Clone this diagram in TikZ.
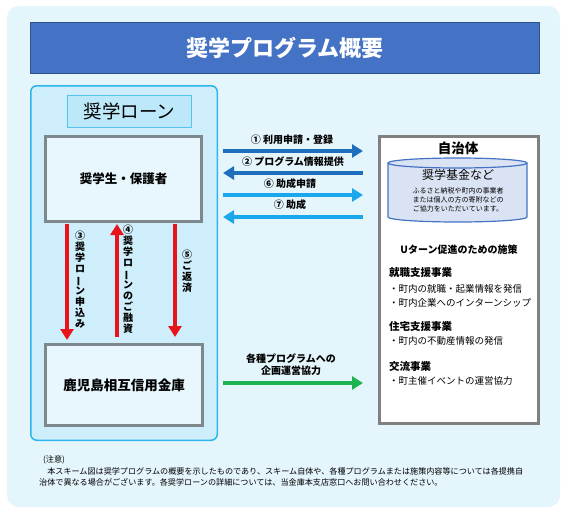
\documentclass[tikz,border=0pt]{standalone}
\usepackage{fontspec}
\setmainfont{Noto Sans CJK JP}
\usepackage{graphicx}
\usetikzlibrary{arrows.meta}
\definecolor{outerbg}{HTML}{E4F5FC}
\definecolor{loanfill}{HTML}{CDEEFA}
\definecolor{loanline}{HTML}{2DB6EE}
\definecolor{tagfill}{HTML}{BDE8F9}
\definecolor{tagline}{HTML}{55C4EE}
\definecolor{boxfill}{HTML}{E8F6FD}
\definecolor{boxline}{HTML}{7D878C}
\definecolor{titlefill}{HTML}{4472C4}
\definecolor{titleline}{HTML}{2F528F}
\definecolor{darkblue}{HTML}{1E6FBE}
\definecolor{lightblue}{HTML}{1AA7EC}
\definecolor{redarr}{HTML}{E8141C}
\definecolor{greenarr}{HTML}{1DB350}
\definecolor{cylfill}{HTML}{DAE3F3}
\definecolor{cylline}{HTML}{4472C4}
\definecolor{muniline}{HTML}{808080}
\newcommand\vbar{\rotatebox[origin=c]{90}{ー}}
\begin{document}
\begin{tikzpicture}[x=1pt,y=-1pt,
  graybox/.style={draw=boxline, line width=3pt, fill=boxfill, inner sep=0pt},
  arrbase/.style={line width=4pt, -{Triangle[width=13pt,length=11pt]}},
  arrD/.style={arrbase, draw=darkblue},
  arrL/.style={arrbase, draw=lightblue},
  arrR/.style={arrbase, draw=redarr},
  arrG/.style={arrbase, draw=greenarr},
  lab/.style={font=\fontsize{10}{12}\selectfont\bfseries, inner sep=0pt},
  vlab/.style={font=\fontsize{10}{11}\selectfont\bfseries, align=center, inner sep=0pt, anchor=north},
  item/.style={font=\fontsize{9.5}{11}\selectfont, inner sep=0pt, anchor=west},
  head/.style={font=\fontsize{10.5}{12}\selectfont\bfseries, inner sep=0pt, anchor=west},
  note/.style={font=\fontsize{8.1}{10}\selectfont, inner sep=0pt, anchor=west}
]
\useasboundingbox (0,0) rectangle (567,514);
\fill[white] (0,0) rectangle (567,514);
\fill[outerbg, rounded corners=12pt] (7,6) rectangle (560,507);

% title
\node[draw=titleline, line width=1pt, fill=titlefill, minimum width=509pt, minimum height=51pt,
      inner sep=0pt, text=white, font=\fontsize{22}{24}\selectfont\bfseries] (title) at (285,48) {奨学プログラム概要};

% loan box
\node[draw=loanline, line width=1.5pt, fill=loanfill, rounded corners=6pt,
      minimum width=186.5pt, minimum height=354.5pt, inner sep=0pt] (loan) at (124,263) {};
\node[draw=tagline, line width=1pt, fill=tagfill, minimum width=124pt, minimum height=32pt,
      inner sep=0pt, font=\fontsize{18.5}{20}\selectfont] (tag) at (129.5,111.5) {奨学ローン};

\node[graybox, minimum width=156pt, minimum height=85pt, font=\fontsize{12.5}{14}\selectfont\bfseries] (stud) at (123.5,179) {奨学生・保護者};
\node[graybox, minimum width=157pt, minimum height=81pt, font=\fontsize{13.5}{15}\selectfont\bfseries] (bank) at (124,385) {鹿児島相互信用金庫};

% municipality
\node[draw=muniline, line width=3pt, fill=white, minimum width=159pt, minimum height=287pt, inner sep=0pt] (muni) at (459,280) {};
\node[font=\fontsize{13.5}{15}\selectfont\bfseries, inner sep=0pt] (munit) at (458,148) {自治体};

% cylinder
\fill[cylfill] (388,163) rectangle (527,217);
\fill[cylfill] (457.5,217) ellipse [x radius=69.5, y radius=5];
\draw[cylline, line width=1.2pt] (388,163) -- (388,217) arc[start angle=180, end angle=0, x radius=69.5, y radius=5] -- (527,163);
\draw[cylline, line width=1.2pt, fill=cylfill] (457.5,163) ellipse [x radius=69.5, y radius=5];
\node[font=\fontsize{12}{14}\selectfont, inner sep=0pt] (fund) at (458,175) {奨学基金など};
\node[font=\fontsize{7}{9}\selectfont, align=center, inner sep=0pt, anchor=north] (fundtxt) at (458,187.5)
  {ふるさと納税や町内の事業者\\または個人の方の寄附などの\\ご協力をいただいています。};

\node[font=\fontsize{10}{12}\selectfont\bfseries, inner sep=0pt] (uturn) at (459,250) {Uターン促進のための施策};
\node[head] (h1) at (389,273) {就職支援事業};
\node[item] (i1) at (389,289) {・町内の就職・起業情報を発信};
\node[item] (i2) at (389,303) {・町内企業へのインターンシップ};
\node[head] (h2) at (389,327) {住宅支援事業};
\node[item] (i3) at (389,341) {・町内の不動産情報の発信};
\node[head] (h3) at (389,367) {交流事業};
\node[item] (i4) at (389,381) {・町主催イベントの運営協力};

% horizontal arrows
\draw[arrD, shorten <=20pt, shorten >=15pt] (stud.east |- 0,151) -- (muni.west |- 0,151);
\draw[arrD, shorten <=15pt, shorten >=20pt] (muni.west |- 0,173) -- (stud.east |- 0,173);
\draw[arrL, shorten <=20pt, shorten >=15pt] (stud.east |- 0,195) -- (muni.west |- 0,195);
\draw[arrL, shorten <=15pt, shorten >=20pt] (muni.west |- 0,217) -- (stud.east |- 0,217);
\node[lab] (l1) at (292,140) {① 利用申請・登録};
\node[lab] (l2) at (293,162) {② プログラム情報提供};
\node[lab] (l6) at (290,184) {⑥ 助成申請};
\node[lab] (l7) at (290,205) {⑦ 助成};

% vertical arrows
\draw[arrR, shorten <=1pt, shorten >=3pt] (stud.south -| 67,0) -- (bank.north -| 67,0);
\draw[arrR, shorten <=6pt, shorten >=1pt] (bank.north -| 117,0) -- (stud.south -| 117,0);
\draw[arrR, shorten <=1pt, shorten >=6pt] (stud.south -| 175,0) -- (bank.north -| 175,0);
\node[vlab] (v3) at (80,231) {③\\奨\\学\\ロ\\\vbar\\ン\\申\\込\\み};
\node[vlab] (v4) at (128,225) {④\\奨\\学\\ロ\\\vbar\\ン\\の\\ご\\融\\資};
\node[vlab] (v5) at (187,250) {⑤\\ご\\返\\済};

% green arrow
\draw[arrG, shorten <=19pt, shorten >=15pt] (bank.east |- 0,383) -- (muni.west |- 0,383);
\node[lab, align=center] (lg) at (291,365) {各種プログラムへの\\企画運営協力};

% note
\node[note] (n0) at (43,460) {(注意)};
\node[note] (n1) at (39,471) {　本スキーム図は奨学プログラムの概要を示したものであり、スキーム自体や、各種プログラムまたは施策内容等については各提携自};
\node[note] (n2) at (39,482) {治体で異なる場合がございます。各奨学ローンの詳細については、当金庫本支店窓口へお問い合わせください。};
\end{tikzpicture}
\end{document}
